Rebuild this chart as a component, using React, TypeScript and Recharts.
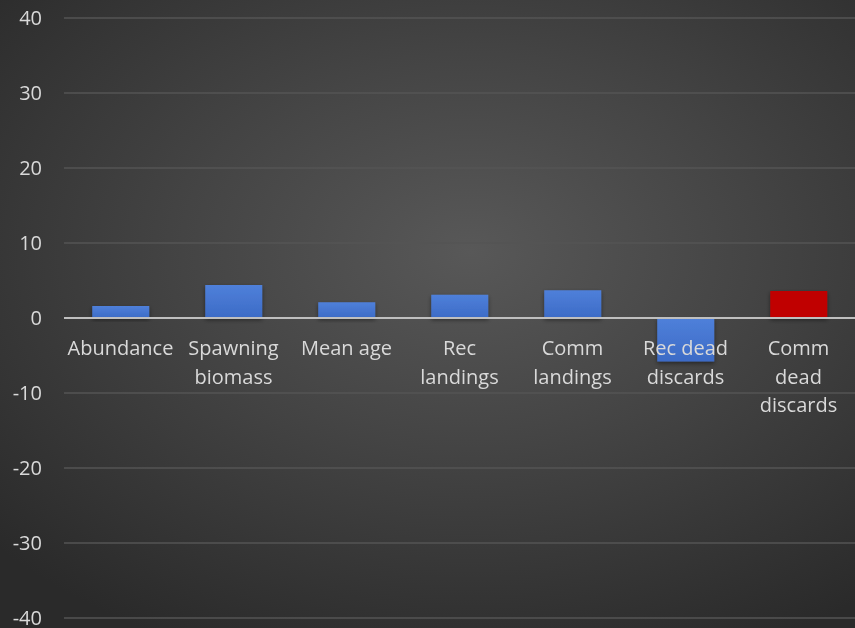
import { BarChart, Bar, XAxis, YAxis, CartesianGrid, ReferenceLine, Cell } from 'recharts';

const categories = ['Abundance', 'Spawning biomass', 'Mean age', 'Rec landings', 'Comm landings', 'Rec dead discards', 'Comm dead discards'];
const values = [1.6, 4.4, 2.1, 3.1, 3.7, -5.8, 3.6];
const highlighted = [false, false, false, false, false, false, true];
const yTicks = [-40, -30, -20, -10, 0, 10, 20, 30, 40];

const data = categories.map((name, i) => ({ name, value: values[i], hi: highlighted[i] }));

const W = 855;
const H = 628;
const M = { top: 18, right: 0, bottom: 0, left: 0 };
const X_AXIS_H = 10;
const Y_MIN = -40;
const Y_MAX = 40;
// pixel y of the zero line, from the same domain the y axis uses
const ZERO_Y = M.top + ((H - M.top - M.bottom - X_AXIS_H) * Y_MAX) / (Y_MAX - Y_MIN);
const FONT = "'Open Sans', 'Noto Sans', sans-serif";

// lines that Excel wraps each category into
const wrapped: Record<string, string[]> = {
  'Spawning biomass': ['Spawning', 'biomass'],
  'Rec landings': ['Rec', 'landings'],
  'Comm landings': ['Comm', 'landings'],
  'Rec dead discards': ['Rec dead', 'discards'],
  'Comm dead discards': ['Comm', 'dead', 'discards'],
};

function CatTick(props: any) {
  const { x, payload } = props;
  const lines = wrapped[payload.value] || [payload.value];
  return (
    <text x={x} y={ZERO_Y + 37} textAnchor="middle" fill="#d9d9d9" fontSize={20} fontFamily={FONT}>
      {lines.map((l, i) => (
        <tspan key={i} x={x} dy={i === 0 ? 0 : 28.5}>{l}</tspan>
      ))}
    </text>
  );
}

export default function App() {
  return (
    <div style={{ position: 'fixed', left: 0, top: 0, width: W, height: H, background: 'radial-gradient(ellipse 75% 70% at 55% 40%, #585858 0%, #444444 45%, #2a2a2a 100%)' }}>
      <BarChart width={W} height={H} data={data} margin={M} barCategoryGap="25%">
        <defs>
          <linearGradient id="blueBar" x1="0" y1="0" x2="0" y2="1">
            <stop offset="0%" stopColor="#4f80da" />
            <stop offset="100%" stopColor="#3c6bc6" />
          </linearGradient>
          <filter id="shadow" x="-10%" y="-20%" width="120%" height="150%">
            <feDropShadow dx="0" dy="2" stdDeviation="2" floodColor="#000" floodOpacity="0.45" />
          </filter>
        </defs>
        <CartesianGrid vertical={false} stroke="#545454" strokeWidth={1.5} />
        <YAxis
          domain={[Y_MIN, Y_MAX]}
          ticks={yTicks}
          interval={0}
          width={64}
          axisLine={false}
          tickLine={false}
          tickMargin={16}
          tick={{ fill: '#d9d9d9', fontSize: 20, fontFamily: FONT }}
        />
        <Bar dataKey="value" isAnimationActive={false} filter="url(#shadow)">
          {data.map((d, i) => (
            <Cell key={i} fill={d.hi ? '#c00000' : 'url(#blueBar)'} />
          ))}
        </Bar>
        <ReferenceLine y={0} stroke="#bfbfbf" strokeWidth={2} />
        <XAxis dataKey="name" axisLine={false} tickLine={false} height={X_AXIS_H} tick={<CatTick />} interval={0} />
      </BarChart>
    </div>
  );
}
